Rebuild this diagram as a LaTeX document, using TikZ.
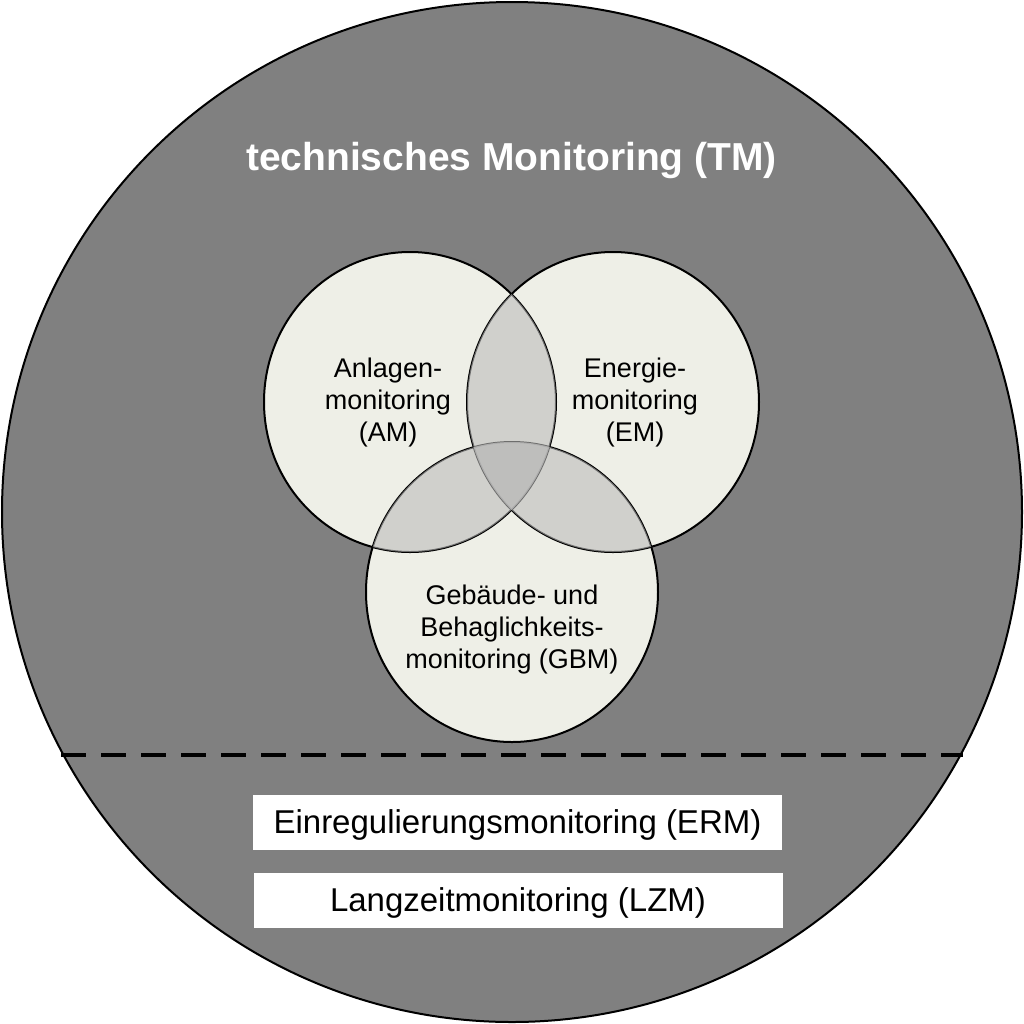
\documentclass[tikz,border=0pt]{standalone}
\usepackage{fontspec}
\setmainfont{Liberation Sans}
\usetikzlibrary{shapes.geometric}
\definecolor{tmgrey}{RGB}{128,128,128}
\definecolor{cream}{RGB}{238,239,231}
\definecolor{lensgrey}{RGB}{187,187,186}
\begin{document}
\begin{tikzpicture}[x=0.5pt,y=-0.5pt,
  vennset/.style={ellipse, minimum width=146pt, minimum height=150pt, inner sep=0pt, fill=cream},
  setline/.style={draw=black, line width=1pt},
  overlap/.style={fill=lensgrey, fill opacity=0.59},
  venntext/.style={font=\fontsize{13.5pt}{16pt}\selectfont, align=center, anchor=base, inner sep=0pt},
  boxlabel/.style={fill=white, minimum width=264.5pt, minimum height=27.5pt, inner sep=0pt,
     font=\fontsize{16.5pt}{19pt}\selectfont, text height=12pt, text depth=0.5pt},
  divider/.style={line width=1.65pt, dash pattern=on 12.5pt off 7.5pt}
]
\useasboundingbox (0,0) rectangle (1024,1024);
% outer circle
\node[circle, draw=black, line width=1pt, fill=tmgrey, minimum size=510pt, inner sep=0pt] (TM) at (512,512) {};
\node[font=\bfseries\fontsize{19.5pt}{23pt}\selectfont, text=white, anchor=base, inner sep=0pt] (title) at (511.5,170) {technisches Monitoring (TM)};
% Venn sets
\node[vennset] (AM) at (410,402) {};
\node[vennset] (EM) at (613,402) {};
\node[vennset] (GBM) at (512,592) {};
\draw[setline] (AM.center) ellipse [x radius=146, y radius=150];
\draw[setline] (EM.center) ellipse [x radius=146, y radius=150];
\draw[setline] (GBM.center) ellipse [x radius=146, y radius=150];
\begin{scope}
  \clip (AM.center) ellipse [x radius=146, y radius=150];
  \fill[overlap] (EM.center) ellipse [x radius=146, y radius=150];
\end{scope}
\begin{scope}
  \clip (AM.center) ellipse [x radius=146, y radius=150];
  \fill[overlap] (GBM.center) ellipse [x radius=146, y radius=150];
\end{scope}
\begin{scope}
  \clip (EM.center) ellipse [x radius=146, y radius=150];
  \fill[overlap] (GBM.center) ellipse [x radius=146, y radius=150];
\end{scope}
\node[venntext] (tAM) at (388,441) {Anlagen-\\monitoring\\(AM)};
\node[venntext] (tEM) at (635,441) {Energie-\\monitoring\\(EM)};
\node[venntext] (tGBM) at (512,668) {Gebäude- und\\Behaglichkeits-\\monitoring (GBM)};
% divider
\coordinate (dl) at (61.3,755);
\coordinate (dr) at (962.7,755);
\draw[divider] (dl) -- (dr);
% boxes
\node[boxlabel] (ERM) at (517.5,822) {Einregulierungsmonitoring (ERM)};
\node[boxlabel] (LZM) at (518,900) {Langzeitmonitoring (LZM)};
\end{tikzpicture}
\end{document}
